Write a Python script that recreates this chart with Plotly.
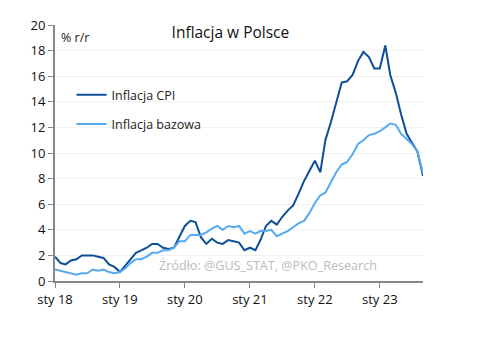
import plotly.graph_objects as go
import pandas as pd

dates = pd.date_range("2018-01-01", "2023-09-01", freq="MS").strftime("%Y-%m-%d").tolist()

cpi = [1.9, 1.4, 1.3, 1.6, 1.7, 2.0, 2.0, 2.0, 1.9, 1.8, 1.3, 1.1,
       0.7, 1.2, 1.7, 2.2, 2.4, 2.6, 2.9, 2.9, 2.6, 2.5, 2.6, 3.4,
       4.3, 4.7, 4.6, 3.4, 2.9, 3.3, 3.0, 2.9, 3.2, 3.1, 3.0, 2.4,
       2.6, 2.4, 3.2, 4.3, 4.7, 4.4, 5.0, 5.5, 5.9, 6.8, 7.8, 8.6,
       9.4, 8.5, 11.0, 12.4, 13.9, 15.5, 15.6, 16.1, 17.2, 17.9, 17.5, 16.6,
       16.6, 18.4, 16.1, 14.7, 13.0, 11.5, 10.8, 10.1, 8.2]

core = [0.9, 0.8, 0.7, 0.6, 0.5, 0.6, 0.6, 0.9, 0.8, 0.9, 0.7, 0.6,
        0.7, 1.0, 1.4, 1.7, 1.7, 1.9, 2.2, 2.2, 2.4, 2.4, 2.6, 3.1,
        3.1, 3.6, 3.6, 3.6, 3.8, 4.1, 4.3, 4.0, 4.3, 4.2, 4.3, 3.7,
        3.9, 3.7, 3.9, 3.9, 4.0, 3.5, 3.7, 3.9, 4.2, 4.5, 4.7, 5.3,
        6.1, 6.7, 6.9, 7.7, 8.5, 9.1, 9.3, 9.9, 10.7, 11.0, 11.4, 11.5,
        11.7, 12.0, 12.3, 12.2, 11.5, 11.1, 10.7, 10.1, 8.4]

tick_vals = ["2018-01-01", "2019-01-01", "2020-01-01", "2021-01-01", "2022-01-01", "2023-01-01"]
tick_text = ["sty 18", "sty 19", "sty 20", "sty 21", "sty 22", "sty 23"]

FONT = "Open Sans"

fig = go.Figure()
fig.add_trace(go.Scatter(x=dates, y=cpi, mode="lines", name="Inflacja CPI",
                         line=dict(color="#0d4f96", width=2), legendgroup="a"))
fig.add_trace(go.Scatter(x=dates, y=core, mode="lines", name="Inflacja bazowa",
                         line=dict(color="#55aaf0", width=2), legendgroup="b"))

fig.update_layout(
    width=483, height=340,
    margin=dict(l=55, r=60, t=25, b=59),
    paper_bgcolor="white", plot_bgcolor="white",
    font=dict(family=FONT, size=12, color="#222"),
    showlegend=True,
    legend=dict(x=0.045, y=0.785, xanchor="left", yanchor="top",
                bgcolor="rgba(0,0,0,0)", font=dict(size=12.5, color="#222"),
                tracegroupgap=10, itemwidth=30),
    title=dict(text="Inflacja w Polsce", x=0.477, xanchor="center", y=0.905, yanchor="middle",
               font=dict(size=15.5, color="#111")),
    xaxis=dict(range=["2018-01-01", "2023-09-01"], tickvals=tick_vals, ticktext=tick_text,
               showgrid=False, showline=True, linecolor="#888", linewidth=2,
               ticks="outside", ticklen=5, tickcolor="#888", tickwidth=1,
               tickfont=dict(size=13, color="#111"), zeroline=False),
    yaxis=dict(range=[0, 20], dtick=2, showgrid=True, gridcolor="#f0f0f0",
               showline=True, linecolor="#888", linewidth=2,
               ticks="outside", ticklen=5, tickcolor="#888", tickwidth=1,
               tickfont=dict(size=13, color="#111"), zeroline=False),
    annotations=[
        dict(text="% r/r", xref="paper", yref="paper", x=0.01, y=0.95,
             xanchor="left", yanchor="middle", showarrow=False,
             font=dict(size=12.5, color="#222")),
        dict(text="Źródło: @GUS_STAT, @PKO_Research", xref="paper", yref="paper",
             x=0.277, y=0.06, xanchor="left", yanchor="middle", showarrow=False,
             font=dict(size=12.6, color="#bbbbbb")),
    ],
)

fig.write_html("out.html")
